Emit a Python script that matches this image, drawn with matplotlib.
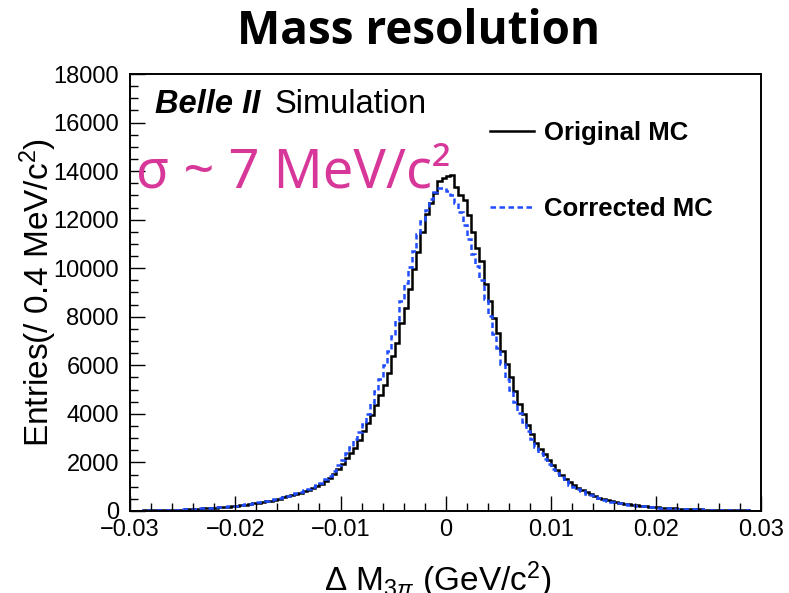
import numpy as np
import matplotlib
matplotlib.use("Agg")
import matplotlib.pyplot as plt
from matplotlib.ticker import MultipleLocator

plt.rcParams['font.family'] = ['Liberation Sans', 'DejaVu Sans']
plt.rcParams['mathtext.fontset'] = 'custom'
plt.rcParams['mathtext.rm'] = 'Liberation Sans'
plt.rcParams['mathtext.it'] = 'Liberation Sans:italic'

# 150 bins of 0.4 MeV between -0.03 and 0.03 GeV
edges = np.linspace(-0.03, 0.03, 151)

original_mc = [
    15, 17, 19, 21, 23, 26, 30, 33, 37, 41,
    46, 52, 58, 66, 75, 85, 96, 110, 120, 131,
    142, 154, 167, 180, 197, 212, 234, 257, 285, 320,
    345, 372, 402, 432, 470, 510, 556, 600, 650, 705,
    760, 815, 880, 950, 1030, 1120, 1230, 1370, 1540, 1740,
    1950, 2170, 2380, 2600, 2930, 3280, 3620, 3970, 4380, 4790,
    5200, 5690, 6380, 6930, 7750, 8380, 9130, 9960, 10660, 11500,
    12230, 12700, 13100, 13600, 13720, 13780, 13860, 13350, 13000, 12800,
    12200, 11500, 10850, 10300, 9350, 8650, 7950, 7350, 6600, 6050,
    5500, 4950, 4400, 3980, 3560, 3180, 2820, 2550, 2330, 2120,
    1900, 1700, 1500, 1330, 1180, 1060, 960, 870, 780, 690,
    605, 550, 495, 445, 395, 365, 335, 305, 275, 250,
    232, 215, 198, 180, 160, 150, 138, 127, 117, 106,
    96, 90, 84, 78, 72, 66, 61, 57, 53, 48,
    44, 40, 36, 32, 29, 26, 23, 20, 17, 14,
]

corrected_mc = [
    16, 18, 20, 22, 25, 28, 32, 35, 39, 44,
    49, 55, 62, 70, 80, 91, 104, 116, 127, 138,
    150, 162, 175, 190, 206, 224, 247, 272, 302, 333,
    360, 388, 418, 452, 490, 534, 580, 626, 680, 734,
    786, 850, 920, 990, 1070, 1170, 1300, 1460, 1660, 1880,
    2120, 2380, 2650, 2950, 3250, 3600, 4000, 4450, 4950, 5450,
    6000, 6600, 7200, 7850, 8650, 9400, 10050, 10700, 11400, 11950,
    12400, 12850, 13130, 13300, 13320, 13200, 13000, 12700, 12300, 11800,
    11200, 10600, 10100, 9500, 8750, 8050, 7300, 6700, 6050, 5450,
    4980, 4480, 4050, 3650, 3300, 2950, 2650, 2400, 2150, 1950,
    1750, 1560, 1390, 1230, 1090, 990, 900, 810, 720, 640,
    570, 515, 465, 415, 375, 345, 315, 285, 260, 238,
    220, 203, 186, 168, 153, 142, 130, 120, 110, 100,
    92, 86, 80, 74, 68, 63, 58, 54, 50, 46,
    42, 38, 34, 30, 27, 24, 21, 19, 16, 13,
]

fig = plt.figure(figsize=(7.89, 5.93), dpi=100)
ax = fig.add_axes([0.1648, 0.1383, 0.8003, 0.7369])

ax.stairs(original_mc, edges, color='black', lw=1.8, label='Original MC')
ax.stairs(corrected_mc, edges, color='#1f4cff', lw=1.8, ls=(0, (2.2, 1.4)),
          label='Corrected MC')

ax.set_xlim(-0.03, 0.03)
ax.set_ylim(0, 18000)
ax.xaxis.set_minor_locator(MultipleLocator(0.002))
ax.yaxis.set_major_locator(MultipleLocator(2000))
ax.yaxis.set_minor_locator(MultipleLocator(500))
ax.set_xticks(np.arange(-0.03, 0.031, 0.01))
ax.set_xticklabels(['\u22120.03', '\u22120.02', '\u22120.01', '0', '0.01', '0.02', '0.03'])
ax.tick_params(which='both', direction='in', top=False, right=False, labelsize=17)
ax.tick_params(which='major', length=11, width=1)
ax.tick_params(which='minor', length=6, width=1)
ax.tick_params(axis='x', pad=6)
ax.tick_params(axis='y', pad=8)
for s in ax.spines.values():
    s.set_linewidth(1.4)

ax.set_ylabel('Entries(/ 0.4 MeV/c$^{2}$)', fontsize=24)
ax.yaxis.set_label_coords(-0.112, 0.5)
ax.set_xlabel(r'$\Delta$ M$_{3\pi}$ (GeV/c$^{2}$)', fontsize=24)
ax.xaxis.set_label_coords(0.488, -0.112)

ax.legend(loc='upper left', bbox_to_anchor=(0.570, 0.893), frameon=False,
          borderaxespad=0, borderpad=0, handlelength=1.72, handletextpad=0.4,
          labelspacing=2.05, prop={'weight': 'bold', 'size': 18.5})

fig.text(0.53, 0.947, 'Mass resolution', ha='center', va='center',
         fontsize=33, fontweight='bold', family=['Open Sans', 'DejaVu Sans'])
fig.text(0.1965, 0.809, 'Belle II', fontsize=23.5, fontweight='bold', style='italic',
         va='baseline')
fig.text(0.3485, 0.809, 'Simulation', fontsize=23.5, va='baseline')
fig.text(0.172, 0.683, 'σ ~ 7 MeV/c²', fontsize=39, color='#d8379a',
         family='Noto Sans', va='baseline')

fig.savefig('out.png', dpi=100)
